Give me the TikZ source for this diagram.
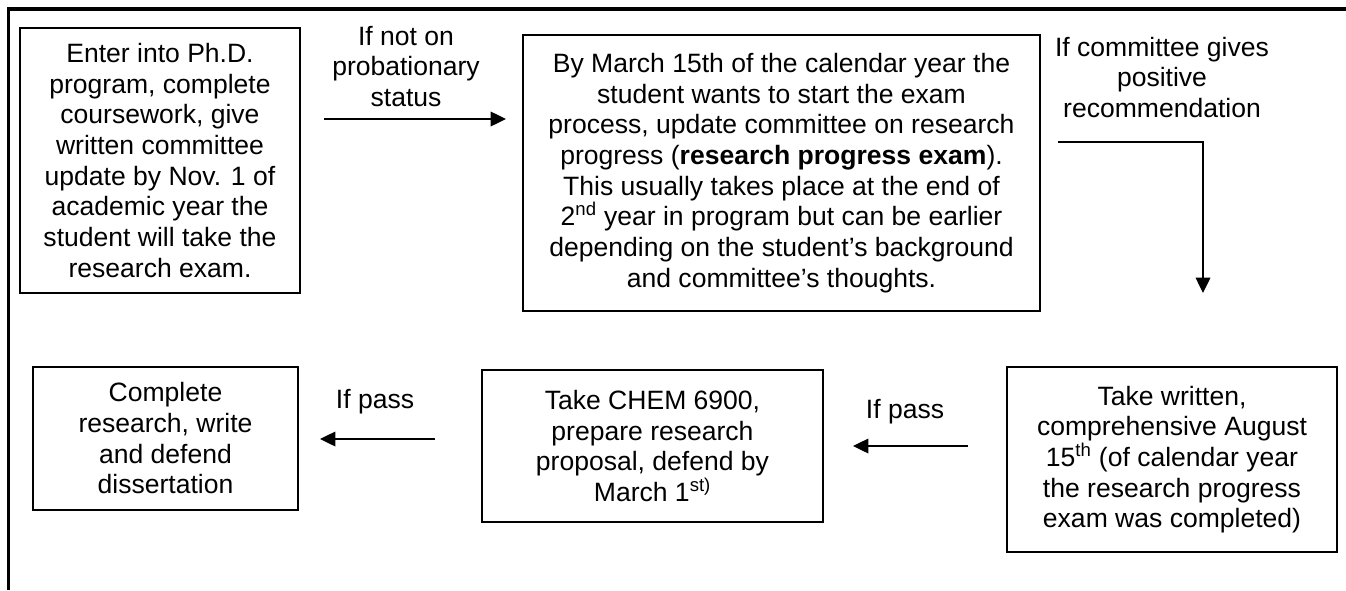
\documentclass[tikz,border=0pt]{standalone}
\usepackage{fontspec}
\setmainfont{Liberation Sans}
\usetikzlibrary{arrows.meta}
\begin{document}
\begin{tikzpicture}[x=0.75pt,y=-0.75pt,
  stepbox/.style={draw,line width=1.5pt,inner sep=0pt,align=center,
    font={\fontsize{19.9}{23}\selectfont}},
  lbl/.style={inner sep=0pt,align=center,font={\fontsize{19.9}{23}\selectfont}},
  conn/.style={line width=1pt,-{Triangle[length=11.5pt,width=11pt]}}]
\useasboundingbox (0,0) rectangle (1346,590);
\draw[line width=2.3pt] (8.5,590) -- (8.5,9) -- (1346,9);

\node[stepbox,minimum width=210pt,minimum height=198.75pt] (b1) at (160,160.5)
 {Enter into Ph.D.\\program, complete\\coursework, give\\written committee\\update by Nov. 1 of\\academic year the\\student will take the\\research exam.};
\node[stepbox,minimum width=387.75pt,minimum height=207pt] (b2) at (781.5,173)
 {By March 15th of the calendar year the\\student wants to start the exam\\process, update committee on research\\progress (\textbf{research progress exam}).\\This usually takes place at the end of\\2\textsuperscript{nd} year in program but can be earlier\\depending on the student’s background\\and committee’s thoughts.};
\node[stepbox,minimum width=247.5pt,minimum height=138.75pt] (b4) at (1172,459.5)
 {Take written,\\comprehensive August\\15\textsuperscript{th} (of calendar year\\the research progress\\exam was completed)};
\node[stepbox,minimum width=255.75pt,minimum height=114pt] (b5) at (652.5,446)
 {Take CHEM 6900,\\prepare research\\proposal, defend by\\March 1\textsuperscript{st)}};
\node[stepbox,minimum width=198.75pt,minimum height=107.25pt] (b6) at (165.5,438.5)
 {Complete\\research, write\\and defend\\dissertation};

\node[lbl] (l1) at (406,66.5) {If not on\\probationary\\status};
\node[lbl] (l2) at (1162,77.5) {If committee gives\\positive\\recommendation};
\node[lbl] (l3) at (905,412) {If pass};
\node[lbl] (l4) at (375,402) {If pass};

\coordinate (a1s) at (324,119);
\coordinate (a1e) at (506,119);
\coordinate (a2s) at (1058,142);
\coordinate (a2m) at (1203,142);
\coordinate (a2e) at (1203,293);
\coordinate (a3s) at (968,446);
\coordinate (a3e) at (853,446);
\coordinate (a4s) at (435,439);
\coordinate (a4e) at (320,439);

\draw[conn] (a1s) -- (a1e);
\draw[conn] (a2s) -- (a2m) -- (a2e);
\draw[conn] (a3s) -- (a3e);
\draw[conn] (a4s) -- (a4e);
\end{tikzpicture}
\end{document}
